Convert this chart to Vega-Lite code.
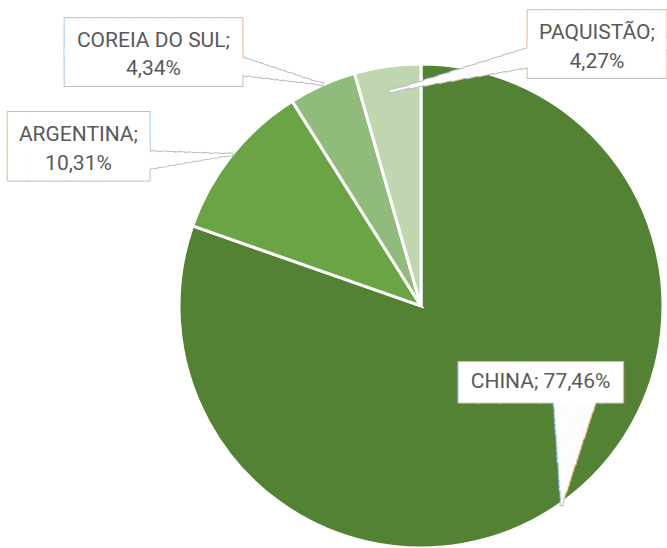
{
  "$schema": "https://vega.github.io/schema/vega-lite/v6.json",
  "width": 484,
  "height": 484,
  "autosize": {"type": "none"},
  "padding": {"left": 179, "top": 64, "right": 4, "bottom": 0},
  "background": "white",
  "view": {"stroke": null},
  "data": {
    "values": [
      {"pais": "CHINA", "valor": 77.46, "ordem": 1},
      {"pais": "ARGENTINA", "valor": 10.31, "ordem": 2},
      {"pais": "COREIA DO SUL", "valor": 4.34, "ordem": 3},
      {"pais": "PAQUISTÃO", "valor": 4.27, "ordem": 4}
    ]
  },
  "encoding": {
    "theta": {"field": "valor", "type": "quantitative", "stack": true},
    "order": {"field": "ordem", "type": "quantitative"}
  },
  "layer": [
    {
      "mark": {"type": "arc", "outerRadius": 242, "stroke": "white", "strokeWidth": 3},
      "encoding": {
        "color": {
          "field": "pais",
          "type": "nominal",
          "scale": {
            "domain": ["CHINA", "ARGENTINA", "COREIA DO SUL", "PAQUISTÃO"],
            "range": ["#548235", "#6aa444", "#91bb7b", "#bfd6b0"]
          },
          "legend": null
        }
      }
    },
    {
      "mark": {
        "type": "text",
        "radius": 243,
        "font": "DejaVu Sans Mono",
        "fontSize": {"expr": "datum.pais == 'CHINA' ? 34 : datum.pais == 'ARGENTINA' ? 33.4 : datum.pais == 'COREIA DO SUL' ? 32.7 : 32.75"},
        "lineHeight": 29,
        "fill": "#bfbfbf",
        "stroke": "#bfbfbf",
        "strokeWidth": 2,
        "text": {"expr": "datum.pais == 'CHINA' ? '████████' : datum.pais == 'ARGENTINA' ? ['███████', '███████'] : datum.pais == 'COREIA DO SUL' ? ['█████████', '█████████'] : ['███████', '███████']"},
        "dx": {"expr": "datum.pais == 'CHINA' ? -21 : datum.pais == 'ARGENTINA' ? -152.6 : datum.pais == 'COREIA DO SUL' ? -168.5 : 209.7"},
        "dy": {"expr": "datum.pais == 'CHINA' ? -120.5 : datum.pais == 'ARGENTINA' ? -21 : datum.pais == 'COREIA DO SUL' ? -45 : -34"}
      }
    },
    {
      "mark": {
        "type": "text",
        "radius": {"expr": "datum.pais == 'PAQUISTÃO' ? 217 : 243"},
        "font": "DejaVu Sans Mono",
        "fontSize": 3,
        "lineHeight": 2.5,
        "align": "center",
        "baseline": "top",
        "fill": "#bfbfbf",
        "stroke": "#bfbfbf",
        "strokeWidth": 2,
        "angle": {"expr": "datum.pais == 'CHINA' ? -172.9 : datum.pais == 'ARGENTINA' ? 86.1 : datum.pais == 'COREIA DO SUL' ? 102.4 : -103.7"},
        "text": {"expr": "datum.pais == 'CHINA' ? [pad('',1,'█'),pad('',1,'█'),pad('',1,'█'),pad('',2,'█'),pad('',2,'█'),pad('',3,'█'),pad('',4,'█'),pad('',4,'█'),pad('',5,'█'),pad('',5,'█'),pad('',6,'█'),pad('',6,'█'),pad('',7,'█'),pad('',7,'█'),pad('',8,'█'),pad('',8,'█'),pad('',9,'█'),pad('',10,'█'),pad('',10,'█'),pad('',11,'█'),pad('',11,'█'),pad('',12,'█'),pad('',12,'█'),pad('',13,'█'),pad('',13,'█'),pad('',14,'█'),pad('',14,'█'),pad('',15,'█'),pad('',16,'█'),pad('',16,'█'),pad('',17,'█'),pad('',17,'█'),pad('',18,'█'),pad('',18,'█'),pad('',19,'█'),pad('',19,'█'),pad('',20,'█'),pad('',20,'█'),pad('',21,'█'),pad('',22,'█'),pad('',22,'█'),pad('',23,'█'),pad('',23,'█')] : datum.pais == 'PAQUISTÃO' ? [pad('',1,'█'),pad('',1,'█'),pad('',1,'█'),pad('',1,'█'),pad('',1,'█'),pad('',1,'█'),pad('',1,'█'),pad('',1,'█'),pad('',2,'█'),pad('',2,'█'),pad('',2,'█'),pad('',2,'█'),pad('',2,'█'),pad('',2,'█'),pad('',3,'█'),pad('',3,'█'),pad('',3,'█'),pad('',3,'█'),pad('',3,'█'),pad('',3,'█'),pad('',4,'█'),pad('',4,'█'),pad('',4,'█'),pad('',4,'█'),pad('',4,'█'),pad('',5,'█'),pad('',5,'█'),pad('',5,'█'),pad('',5,'█'),pad('',5,'█'),pad('',5,'█'),pad('',6,'█'),pad('',6,'█'),pad('',6,'█'),pad('',6,'█'),pad('',6,'█'),pad('',7,'█'),pad('',7,'█'),pad('',7,'█'),pad('',7,'█'),pad('',7,'█'),pad('',7,'█'),pad('',8,'█'),pad('',8,'█'),pad('',8,'█'),pad('',8,'█'),pad('',8,'█'),pad('',9,'█'),pad('',9,'█'),pad('',9,'█'),pad('',9,'█'),pad('',9,'█'),pad('',9,'█'),pad('',10,'█'),pad('',10,'█'),pad('',10,'█'),pad('',10,'█'),pad('',10,'█')] : [pad('',1,'█'),pad('',1,'█'),pad('',1,'█'),pad('',1,'█'),pad('',1,'█'),pad('',2,'█'),pad('',2,'█'),pad('',2,'█'),pad('',2,'█'),pad('',3,'█'),pad('',3,'█'),pad('',3,'█'),pad('',4,'█'),pad('',4,'█'),pad('',4,'█'),pad('',4,'█'),pad('',5,'█'),pad('',5,'█'),pad('',5,'█'),pad('',6,'█'),pad('',6,'█'),pad('',6,'█'),pad('',6,'█'),pad('',7,'█'),pad('',7,'█'),pad('',7,'█'),pad('',8,'█'),pad('',8,'█'),pad('',8,'█'),pad('',8,'█'),pad('',9,'█'),pad('',9,'█'),pad('',9,'█'),pad('',10,'█')]"}
      }
    },
    {
      "mark": {
        "type": "text",
        "radius": 243,
        "font": "DejaVu Sans Mono",
        "fontSize": {"expr": "datum.pais == 'CHINA' ? 34 : datum.pais == 'ARGENTINA' ? 33.4 : datum.pais == 'COREIA DO SUL' ? 32.7 : 32.75"},
        "lineHeight": 29,
        "fill": "white",
        "text": {"expr": "datum.pais == 'CHINA' ? '████████' : datum.pais == 'ARGENTINA' ? ['███████', '███████'] : datum.pais == 'COREIA DO SUL' ? ['█████████', '█████████'] : ['███████', '███████']"},
        "dx": {"expr": "datum.pais == 'CHINA' ? -21 : datum.pais == 'ARGENTINA' ? -152.6 : datum.pais == 'COREIA DO SUL' ? -168.5 : 209.7"},
        "dy": {"expr": "datum.pais == 'CHINA' ? -120.5 : datum.pais == 'ARGENTINA' ? -21 : datum.pais == 'COREIA DO SUL' ? -45 : -34"}
      }
    },
    {
      "mark": {
        "type": "text",
        "radius": {"expr": "datum.pais == 'PAQUISTÃO' ? 217 : 243"},
        "font": "DejaVu Sans Mono",
        "fontSize": 3,
        "lineHeight": 2.5,
        "align": "center",
        "baseline": "top",
        "fill": "white",
        "angle": {"expr": "datum.pais == 'CHINA' ? -172.9 : datum.pais == 'ARGENTINA' ? 86.1 : datum.pais == 'COREIA DO SUL' ? 102.4 : -103.7"},
        "text": {"expr": "datum.pais == 'CHINA' ? [pad('',1,'█'),pad('',1,'█'),pad('',1,'█'),pad('',2,'█'),pad('',2,'█'),pad('',3,'█'),pad('',4,'█'),pad('',4,'█'),pad('',5,'█'),pad('',5,'█'),pad('',6,'█'),pad('',6,'█'),pad('',7,'█'),pad('',7,'█'),pad('',8,'█'),pad('',8,'█'),pad('',9,'█'),pad('',10,'█'),pad('',10,'█'),pad('',11,'█'),pad('',11,'█'),pad('',12,'█'),pad('',12,'█'),pad('',13,'█'),pad('',13,'█'),pad('',14,'█'),pad('',14,'█'),pad('',15,'█'),pad('',16,'█'),pad('',16,'█'),pad('',17,'█'),pad('',17,'█'),pad('',18,'█'),pad('',18,'█'),pad('',19,'█'),pad('',19,'█'),pad('',20,'█'),pad('',20,'█'),pad('',21,'█'),pad('',22,'█'),pad('',22,'█'),pad('',23,'█'),pad('',23,'█')] : datum.pais == 'PAQUISTÃO' ? [pad('',1,'█'),pad('',1,'█'),pad('',1,'█'),pad('',1,'█'),pad('',1,'█'),pad('',1,'█'),pad('',1,'█'),pad('',1,'█'),pad('',2,'█'),pad('',2,'█'),pad('',2,'█'),pad('',2,'█'),pad('',2,'█'),pad('',2,'█'),pad('',3,'█'),pad('',3,'█'),pad('',3,'█'),pad('',3,'█'),pad('',3,'█'),pad('',3,'█'),pad('',4,'█'),pad('',4,'█'),pad('',4,'█'),pad('',4,'█'),pad('',4,'█'),pad('',5,'█'),pad('',5,'█'),pad('',5,'█'),pad('',5,'█'),pad('',5,'█'),pad('',5,'█'),pad('',6,'█'),pad('',6,'█'),pad('',6,'█'),pad('',6,'█'),pad('',6,'█'),pad('',7,'█'),pad('',7,'█'),pad('',7,'█'),pad('',7,'█'),pad('',7,'█'),pad('',7,'█'),pad('',8,'█'),pad('',8,'█'),pad('',8,'█'),pad('',8,'█'),pad('',8,'█'),pad('',9,'█'),pad('',9,'█'),pad('',9,'█'),pad('',9,'█'),pad('',9,'█'),pad('',9,'█'),pad('',10,'█'),pad('',10,'█'),pad('',10,'█'),pad('',10,'█'),pad('',10,'█')] : [pad('',1,'█'),pad('',1,'█'),pad('',1,'█'),pad('',1,'█'),pad('',1,'█'),pad('',2,'█'),pad('',2,'█'),pad('',2,'█'),pad('',2,'█'),pad('',3,'█'),pad('',3,'█'),pad('',3,'█'),pad('',4,'█'),pad('',4,'█'),pad('',4,'█'),pad('',4,'█'),pad('',5,'█'),pad('',5,'█'),pad('',5,'█'),pad('',6,'█'),pad('',6,'█'),pad('',6,'█'),pad('',6,'█'),pad('',7,'█'),pad('',7,'█'),pad('',7,'█'),pad('',8,'█'),pad('',8,'█'),pad('',8,'█'),pad('',8,'█'),pad('',9,'█'),pad('',9,'█'),pad('',9,'█'),pad('',10,'█')]"}
      }
    },
    {
      "mark": {
        "type": "text",
        "radius": 243,
        "font": "Roboto",
        "fontSize": 21,
        "lineHeight": 28.5,
        "fill": "#595959",
        "text": {"expr": "datum.pais == 'CHINA' ? datum.pais + '; ' + replace(format(datum.valor, '.2f'), '.', ',') + '%' : [datum.pais + ';', replace(format(datum.valor, '.2f'), '.', ',') + '%']"},
        "dx": {"expr": "datum.pais == 'CHINA' ? -21 : datum.pais == 'ARGENTINA' ? -152.6 : datum.pais == 'COREIA DO SUL' ? -168.5 : 209.7"},
        "dy": {"expr": "datum.pais == 'CHINA' ? -122 : datum.pais == 'ARGENTINA' ? -19.25 : datum.pais == 'COREIA DO SUL' ? -43.25 : -32.25"}
      }
    }
  ]
}
